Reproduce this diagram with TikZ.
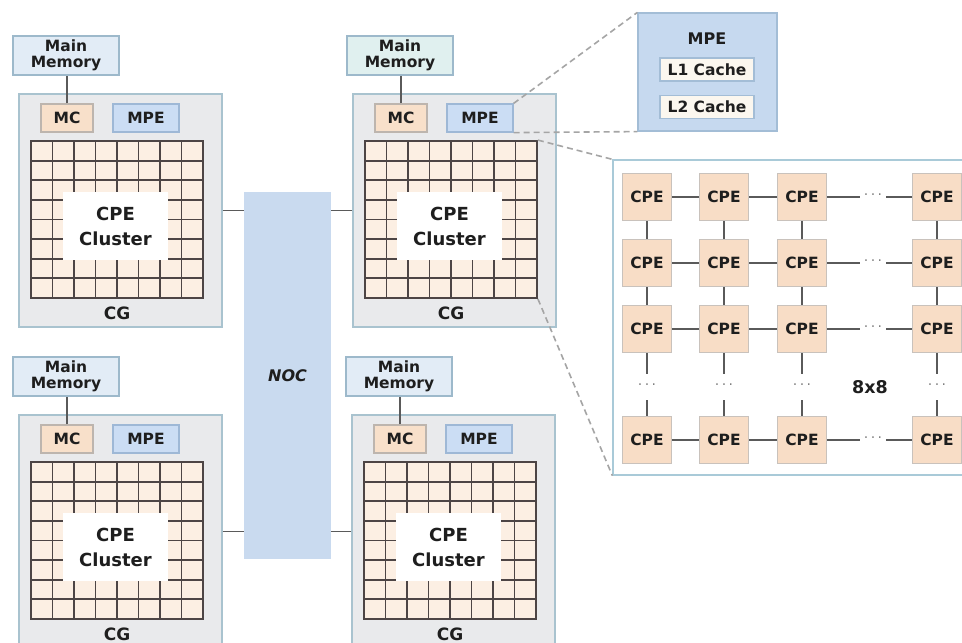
\documentclass[tikz,border=0pt]{standalone}
\usepackage{fontspec}
\setmainfont{DejaVu Sans}
\definecolor{cgfill}{HTML}{E9EAEC}
\definecolor{cgdraw}{HTML}{A9C3CF}
\definecolor{mmfillA}{HTML}{E2ECF6}
\definecolor{mmfillB}{HTML}{E0F0EF}
\definecolor{mmdraw}{HTML}{9DB9CB}
\definecolor{mcfill}{HTML}{F8E0CA}
\definecolor{mcdraw}{HTML}{BDB5AE}
\definecolor{mpefill}{HTML}{CBDDF4}
\definecolor{mpedraw}{HTML}{9EB8D6}
\definecolor{gridfill}{HTML}{FCEFE3}
\definecolor{gridcol}{HTML}{4D4545}
\definecolor{nocfill}{HTML}{C9DAEF}
\definecolor{detfill}{HTML}{C6D9EF}
\definecolor{detdraw}{HTML}{A3BDD6}
\definecolor{cachefill}{HTML}{FBF7EF}
\definecolor{cpefill}{HTML}{F8DDC6}
\definecolor{cpedraw}{HTML}{C9C2BC}
\definecolor{arrdraw}{HTML}{A9CAD8}
\definecolor{conncol}{HTML}{5A5A5A}
\definecolor{dashcol}{HTML}{A5A5A5}
\definecolor{txt}{HTML}{1E1E1E}
\tikzset{
  box/.style={inner sep=0pt, anchor=center, text=txt, align=center},
  cgbox/.style={box, fill=cgfill, draw=cgdraw, line width=1.3pt, minimum width=203pt, minimum height=233pt},
  mmbox/.style={box, draw=mmdraw, line width=1.2pt, minimum width=106pt, minimum height=39pt,
    font=\fontsize{15.5}{16}\selectfont\bfseries},
  mcbox/.style={box, fill=mcfill, draw=mcdraw, line width=1.2pt, minimum width=52pt, minimum height=28pt,
    font=\fontsize{15.5}{16}\selectfont\bfseries},
  mpebox/.style={box, fill=mpefill, draw=mpedraw, line width=1.2pt, minimum width=66pt, minimum height=28pt,
    font=\fontsize{15.5}{16}\selectfont\bfseries},
  gridbox/.style={box, fill=gridfill, draw=gridcol, line width=1.8pt, minimum width=172pt, minimum height=157pt},
  gridline/.style={draw=gridcol, line width=1.8pt},
  clbox/.style={box, fill=white, minimum width=105pt, minimum height=68pt,
    font=\fontsize{18}{25}\selectfont\bfseries},
  cglabel/.style={box, font=\fontsize{17}{18}\selectfont\bfseries},
  conn/.style={draw=conncol, line width=1.3pt},
  dashln/.style={draw=dashcol, line width=1.6pt, dash pattern=on 6pt off 4pt},
  nocbox/.style={box, fill=nocfill, minimum width=87pt, minimum height=367pt,
    font=\fontsize{16}{18}\selectfont\bfseries\itshape},
  detbox/.style={box, fill=detfill, draw=detdraw, line width=1.2pt, minimum width=139pt, minimum height=118pt},
  cachebox/.style={box, fill=cachefill, draw=detdraw, line width=1.2pt, minimum width=94pt, minimum height=23pt,
    font=\fontsize{15.5}{16}\selectfont\bfseries},
  lbl/.style={box, font=\fontsize{16}{16}\selectfont\bfseries},
  arrbox/.style={box, fill=white, draw=arrdraw, line width=1.3pt, minimum width=362pt, minimum height=315pt},
  cpebox/.style={box, fill=cpefill, draw=cpedraw, line width=1.2pt, minimum width=49pt, minimum height=47pt,
    font=\fontsize{15.5}{16}\selectfont\bfseries},
  dotsn/.style={box, text=gray, inner xsep=4pt, inner ysep=6pt, font=\fontsize{14}{14}\selectfont},
  bigl/.style={box, font=\fontsize{17.5}{18}\selectfont\bfseries}
}
\newcommand\cgunit[4]{%
  \node[cgbox] (#1box) at ({#2+101.5},{#3+116.5}) {};
  \node[mmbox, fill=#4] (#1mm) at ({#2+47},{#3-38.5}) {Main\\Memory};
  \node[mcbox] (#1mc) at ({#2+48},{#3+24}) {MC};
  \node[mpebox] (#1mpe) at ({#2+127},{#3+24}) {MPE};
  \node[gridbox] (#1grid) at ({#2+98},{#3+125.5}) {};
  \foreach \i in {1,...,7} {
    \draw[gridline] ({#2+12+\i*21.5},{#3+47}) -- ({#2+12+\i*21.5},{#3+204});
    \draw[gridline] ({#2+12},{#3+47+\i*19.625}) -- ({#2+184},{#3+47+\i*19.625});
  }
  \node[clbox] (#1cl) at ({#2+96.5},{#3+132}) {CPE\\Cluster};
  \node[cglabel] (#1lbl) at ({#2+98},{#3+219}) {CG};
  \draw[conn] (#1mc.north) -- (#1mc.north |- #1mm.south);
}
\begin{document}
\begin{tikzpicture}[x=1pt,y=-1pt]
  \useasboundingbox (0,0) rectangle (962,643);
  \clip (0,0) rectangle (962,643);
  \fill[white] (0,0) rectangle (962,643);

  \cgunit{tl}{19}{94}{mmfillA}
  \cgunit{tr}{353}{94}{mmfillB}
  \cgunit{bl}{19}{415}{mmfillA}
  \cgunit{br}{352}{415}{mmfillA}

  \node[nocbox] (noc) at (287.5,375.5) {NOC};
  \draw[conn] (tlbox.east) -- (noc.west |- tlbox.east);
  \draw[conn] (blbox.east) -- (noc.west |- blbox.east);
  \draw[conn] (trbox.west) -- (noc.east |- trbox.west);
  \draw[conn] (brbox.west) -- (noc.east |- brbox.west);

  % MPE detail
  \node[detbox] (det) at (707.5,72) {};
  \node[lbl] (detl) at (707,39) {MPE};
  \node[cachebox] (l1) at (707,69.5) {L1 Cache};
  \node[cachebox] (l2) at (707,107) {L2 Cache};

  % CPE array
  \node[arrbox] (arr) at (794,317.5) {};
  \foreach \r/\y in {1/197,2/263,3/329,5/440} {
    \foreach \c/\x in {1/647,2/724,3/802,4/937} {
      \node[cpebox] (c\r\c) at (\x,\y) {CPE};
    }
    \node[dotsn] (hd\r) at (873,\y) {·\,·\,·};
    \draw[conn] (c\r1) -- (c\r2);
    \draw[conn] (c\r2) -- (c\r3);
    \draw[conn] (c\r3) -- (hd\r);
    \draw[conn] (hd\r) -- (c\r4);
  }
  \foreach \c/\x in {1/647,2/724,3/802,4/937} {
    \node[dotsn, inner ysep=10pt] (vd\c) at (\x,387) {·\,·\,·};
    \draw[conn] (c1\c) -- (c2\c);
    \draw[conn] (c2\c) -- (c3\c);
    \draw[conn] (c3\c) -- (vd\c);
    \draw[conn] (vd\c) -- (c5\c);
  }
  \node[bigl] (n8) at (870,387) {8x8};

  % zoom dashed lines
  \draw[dashln] (trmpe.north east) -- (det.north west);
  \draw[dashln] (trmpe.south east) -- (det.south west);
  \draw[dashln] (trgrid.north east) -- (arr.north west);
  \draw[dashln] (trgrid.south east) -- (arr.south west);
\end{tikzpicture}
\end{document}
